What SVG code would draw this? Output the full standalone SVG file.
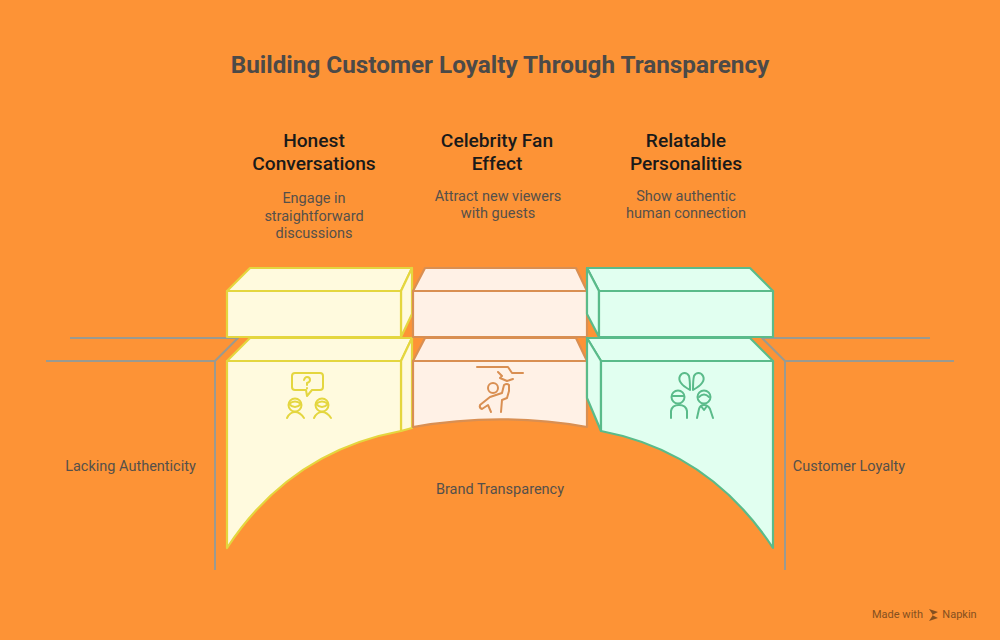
<svg xmlns="http://www.w3.org/2000/svg" width="1000" height="640" viewBox="0 0 1000 640">
<style>
text{font-family:Roboto,"Liberation Sans",sans-serif;text-anchor:middle}
.title{font-size:24.3px;font-weight:700;fill:#4c4a48}
.head{font-size:19.2px;font-weight:500;fill:#1a1a1a}
.body{font-size:14.5px;fill:#55504a}
.g{fill:none;stroke:#9a9a90;stroke-width:2}
.y path.s{fill:#fffade;stroke:#e4d63f;stroke-width:2.2;stroke-linejoin:round}
.o path.s{fill:#fff1e6;stroke:#d98f52;stroke-width:2.2;stroke-linejoin:round}
.t path.s{fill:#e1fff0;stroke:#5abb8a;stroke-width:2.2;stroke-linejoin:round}
.i{fill:none;stroke-width:2;stroke-linecap:round;stroke-linejoin:round}
</style>
<rect width="1000" height="640" fill="#fd9336"/>
<text class="title" x="500" y="73">Building Customer Loyalty Through Transparency</text>
<g id="connectors">
<path class="g" d="M70 338H238L215 361M46 361H215V570"/>
<path class="g" d="M930 338H762L785 361M954 361H785V570"/>
</g>
<g id="node-honest" class="y">
<path class="s" d="M227 291L250 268H412L401 291Z"/>
<path class="s" d="M401 291L412 268V314L401 337Z"/>
<path class="s" d="M227 291H401V337H227Z"/>
<path class="s" d="M227 361L250 338H412L401 361Z"/>
<path class="s" d="M401 361L412 338V428L401 431Z"/>
<path class="s" d="M227 361H401V431C320 446 265 490 227 548Z"/>
<g class="i" stroke="#e4d63f">
<path d="M295 373H320Q323 373 323 376V387Q323 390 320 390H312L307 396L306 390H295Q292 390 292 387V376Q292 373 295 373Z"/>
<path d="M304 380Q305 377 307 377Q310 377 310 380Q310 382 307 383V385M307 388V388.5"/>
<circle cx="295" cy="405" r="6.5"/><path d="M289 404Q295 410 301 404M289 404Q295 399 301 404M287 418Q290 412 295 412Q300 412 304 418"/>
<circle cx="322" cy="405" r="6.5"/><path d="M316 404Q322 410 328 404M316 404Q322 399 328 404M314 418Q317 412 322 412Q327 412 331 418"/>
</g>
<text class="head" x="314" y="147">Honest</text>
<text class="head" x="314" y="170">Conversations</text>
<text class="body" x="314" y="203">Engage in</text>
<text class="body" x="314" y="221">straightforward</text>
<text class="body" x="314" y="238">discussions</text>
</g>
<g id="node-celebrity" class="o">
<path class="s" d="M413 291L425 268H576L587 291Z"/>
<path class="s" d="M413 291H587V337H413Z"/>
<path class="s" d="M413 361L425 338H576L587 361Z"/>
<path class="s" d="M413 361H587V427C530 417 470 417 413 427Z"/>
<g class="i" stroke="#d98f52">
<path d="M477 367H508L512 373H523M498 372L502 376L500 378L507 381L513 379"/>
<circle cx="493" cy="388" r="5"/>
<path d="M504 385L502 393L490 397L480 405Q479 408 482 409L488 405L491 412M504 385Q507 383 509 385L509 391L507 398L502 400L501 412"/>
</g>
<text class="head" x="497" y="147">Celebrity Fan</text>
<text class="head" x="497" y="170">Effect</text>
<text class="body" x="498" y="201">Attract new viewers</text>
<text class="body" x="498" y="218">with guests</text>
</g>
<g id="node-relatable" class="t">
<path class="s" d="M587 268H750L773 291H599Z"/>
<path class="s" d="M587 268L599 291V337L587 314Z"/>
<path class="s" d="M599 291H773V337H599Z"/>
<path class="s" d="M587 338H750L773 361H601Z"/>
<path class="s" d="M587 338L601 361V431L587 398Z"/>
<path class="s" d="M601 361H773V548C735 490 680 446 601 431Z"/>
<g class="i" stroke="#5abb8a">
<path d="M690 390C681 385 678 380 680 376C682 372 687 372 689 376C690 380 690 385 690 390ZM693 390C702 385 705 380 703 376C701 372 696 372 694 376C693 380 693 385 693 390Z"/>
<circle cx="678" cy="397" r="6.5"/><path d="M672 396H684M671 418V411Q672 405 679 405Q686 405 687 411V418"/>
<circle cx="704" cy="397" r="6.5"/><path d="M699 397Q704 392 709 397M697 418L699 409Q700 405 704 405Q708 405 710 409L713 418M701 406L704 410L707 406"/>
</g>
<text class="head" x="686" y="147">Relatable</text>
<text class="head" x="686" y="170">Personalities</text>
<text class="body" x="686" y="201">Show authentic</text>
<text class="body" x="686" y="218">human connection</text>
</g>
<text class="body" x="130.500" y="471">Lacking Authenticity</text>
<text class="body" x="500" y="494">Brand Transparency</text>
<text class="body" x="849" y="471">Customer Loyalty</text>
<g id="credit">
<text x="897.500" y="618" style="font-size:11px;font-weight:400;fill:#85501f">Made with</text>
<path d="M929 609L938 612L932 615L938 618L929 621L933 615Z" fill="#85501f"/>
<text x="959.500" y="618" style="font-size:11px;font-weight:400;fill:#85501f">Napkin</text>
</g>
</svg>
